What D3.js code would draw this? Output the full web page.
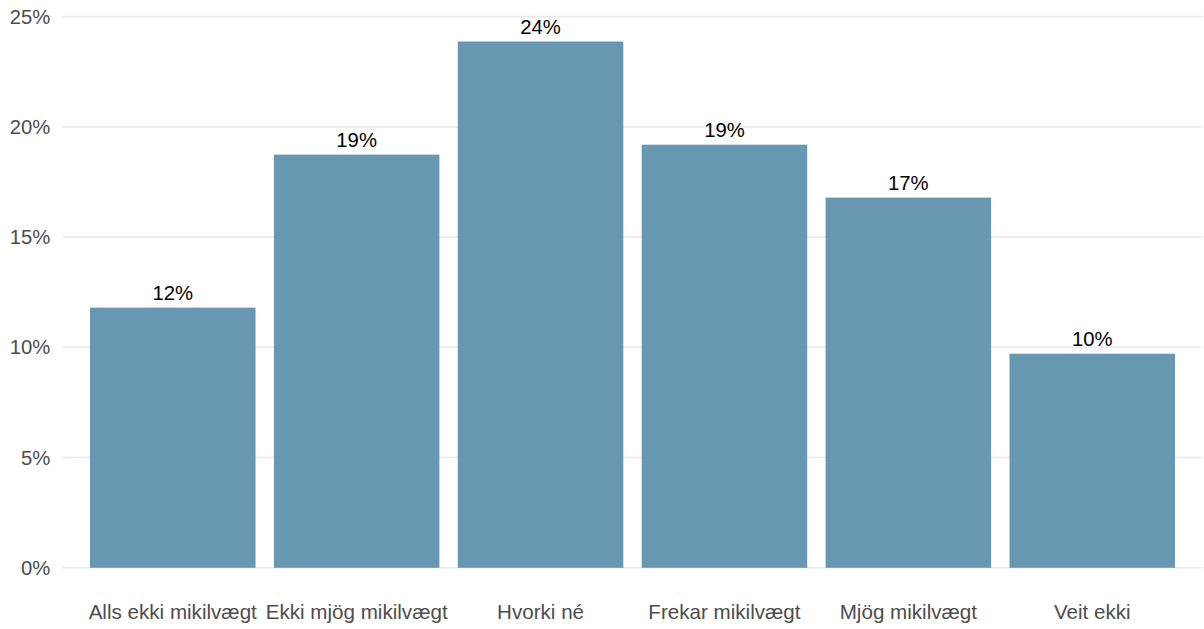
<!DOCTYPE html>
<html>
<head>
<meta charset="utf-8">
<script src="https://cdn.jsdelivr.net/npm/d3@7"></script>
<style>
  html, body { margin: 0; padding: 0; background: #fff; }
  svg { display: block; font-family: "Liberation Sans", Arial, sans-serif; }
</style>
</head>
<body>
<svg id="chart" width="1204" height="629"></svg>
<script>
const categories = ["Alls ekki mikilvægt", "Ekki mjög mikilvægt", "Hvorki né", "Frekar mikilvægt", "Mjög mikilvægt", "Veit ekki"];
const values = [11.8, 18.74, 23.87, 19.19, 16.79, 9.71];
const barLabels = ["12%", "19%", "24%", "19%", "17%", "10%"];
const yTicks = [0, 5, 10, 15, 20, 25];
const yTickLabels = ["0%", "5%", "10%", "15%", "20%", "25%"];

const svg = d3.select("#chart");
const left = 62.4, right = 1202.6;
const fs = "20.3px";

const x = d3.scaleBand().domain(categories).range([left, right]).paddingInner(0.1).paddingOuter(0.15);
const y = d3.scaleLinear().domain([0, 25]).range([567.8, 16.6]);

// gridlines
svg.append("g").selectAll("line").data(yTicks).join("line")
  .attr("x1", left).attr("x2", right)
  .attr("y1", d => y(d)).attr("y2", d => y(d))
  .attr("stroke", "#ebebeb").attr("stroke-width", 1.6);

// y axis labels
const yAxis = d3.axisLeft(y).tickValues(yTicks).tickSize(0).tickPadding(12)
  .tickFormat((d, i) => yTickLabels[i]);
const gy = svg.append("g").attr("transform", `translate(${left},0)`).call(yAxis);
gy.select(".domain").remove();
gy.selectAll("text").attr("fill", "#4d4d4d").style("font-size", fs)
  .style("font-family", "Liberation Sans, Arial, sans-serif");

// bars
svg.append("g").selectAll("rect").data(values).join("rect")
  .attr("x", (d, i) => x(categories[i]))
  .attr("width", x.bandwidth())
  .attr("y", d => y(d))
  .attr("height", d => y(0) - y(d))
  .attr("fill", "#6897b1");

// bar value labels
svg.append("g").selectAll("text").data(values).join("text")
  .attr("x", (d, i) => x(categories[i]) + x.bandwidth() / 2)
  .attr("y", d => y(d) - 7.5)
  .attr("text-anchor", "middle")
  .attr("fill", "#000")
  .style("font-size", fs)
  .text((d, i) => barLabels[i]);

// x axis labels
const xAxis = d3.axisBottom(x).tickSize(0).tickPadding(0);
const gx = svg.append("g").attr("transform", `translate(0,604.5)`).call(xAxis);
gx.select(".domain").remove();
gx.selectAll("text").attr("fill", "#4d4d4d").style("font-size", "20.6px")
  .style("font-family", "Liberation Sans, Arial, sans-serif");
</script>
</body>
</html>
